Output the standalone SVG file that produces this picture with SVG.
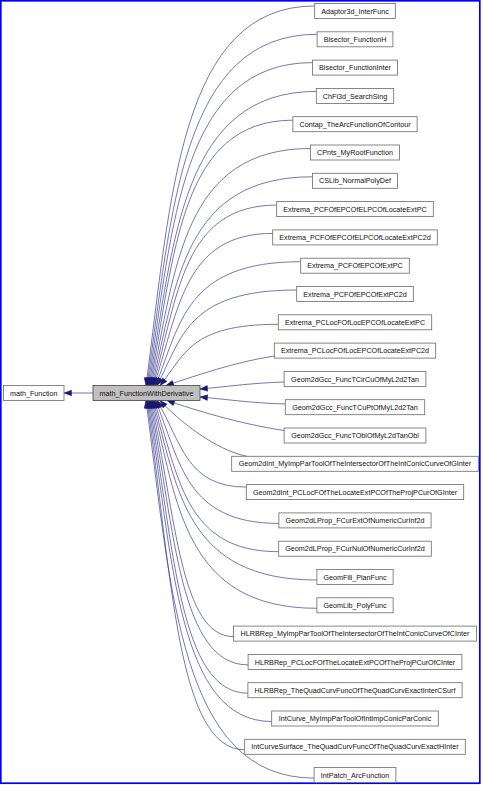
<svg xmlns="http://www.w3.org/2000/svg" width="483" height="785" viewBox="0 0 483 785">
<style>
.n rect{fill:#fff;stroke:#6a6a6a;stroke-width:0.8}
.c rect{fill:#bfbfbf;stroke:#444;stroke-width:0.8}
text{font-family:"Liberation Sans",Arial,Helvetica,sans-serif;font-size:7.2px;text-anchor:middle;fill:#111}
.e path{fill:none;stroke:#3c3c92;stroke-width:0.7;marker-end:url(#ah)}
</style>
<defs>
<marker id="ah" markerWidth="9" markerHeight="7" refX="7.5" refY="2.8" orient="auto" markerUnits="userSpaceOnUse" overflow="visible">
<path d="M0,0 L7.5,2.8 L0,5.6 Z" fill="#191970" stroke="#191970" stroke-width="0.5"/>
</marker>
</defs>
<rect x="0.8" y="0.8" width="479" height="782.4" fill="#fff" stroke="#0000ff" stroke-width="1.7"/>
<g id="edges" class="e">
<path d="M93,393 L64,393"/>
<path d="M314.7,6 C179.7,6 171,196.2 146,385.5"/>
<path d="M317.1,34.3 C181,34.3 172,210.4 147,385.5"/>
<path d="M312.5,62.6 C180.9,62.6 173,224.6 148,385.5"/>
<path d="M316.3,91.4 C182.5,91.4 174,238.7 149,385.5"/>
<path d="M292.9,120.2 C180,120.2 175,252.9 150,385.5"/>
<path d="M310.5,148.5 C182.9,148.5 176,267 151,385.5"/>
<path d="M312.5,176.8 C184.1,176.8 177,281.2 152,385.5"/>
<path d="M276.7,205.1 C183,205.1 178,295.3 153,385.5"/>
<path d="M272.7,233.4 C184,233.4 179,309.5 154,385.5"/>
<path d="M300.7,261.7 C185.5,261.7 180.5,323.6 155.5,385.5"/>
<path d="M296.7,290 C187,290 182,337.8 157,385.5"/>
<path d="M278.3,324.3 C190,324.3 185,354.9 160,385.5"/>
<path d="M274.3,356 C235,362 195,376 166,385.5"/>
<path d="M284.1,382 C250,383 225,387 200,389"/>
<path d="M285.3,404 C250,403 225,399 200,397"/>
<path d="M284.1,430.5 C240,424 195,410 167,400.5"/>
<path d="M247,456.3 C215,450 178,420 160,400.5"/>
<path d="M246.3,487.1 C187,487.1 182,443.8 157,400.5"/>
<path d="M278.9,523.4 C185.5,523.4 180.5,462 155.5,400.5"/>
<path d="M278.7,551.7 C184,551.7 179,476.1 154,400.5"/>
<path d="M316.9,580 C185.8,580 178,490.3 153,400.5"/>
<path d="M316.9,608.3 C185,608.3 177,504.4 152,400.5"/>
<path d="M233.5,636.6 C181,636.6 176,518.6 151,400.5"/>
<path d="M248.1,664.9 C180,664.9 175,532.7 150,400.5"/>
<path d="M247.9,693.2 C179,693.2 174,546.9 149,400.5"/>
<path d="M271.7,721.5 C178,721.5 173,561 148,400.5"/>
<path d="M244.7,749.8 C177,749.8 172,575.2 147,400.5"/>
<path d="M314.1,778.1 C179.6,778.1 171,589.3 146,400.5"/>
</g>
<g id="node-math_Function" class="n"><rect x="3.4" y="385.5" width="60.6" height="15"/><text x="33.7" y="395.6">math_Function</text></g>
<g id="node-math_FunctionWithDerivative" class="c"><rect x="93" y="385.5" width="107" height="15"/><text x="146.5" y="395.6">math_FunctionWithDerivative</text></g>
<g id="node-Adaptor3d_InterFunc" class="n"><rect x="314.7" y="3.5" width="80.6" height="15"/><text x="355" y="13.6">Adaptor3d_InterFunc</text></g>
<g id="node-Bisector_FunctionH" class="n"><rect x="317.1" y="31.8" width="75.8" height="15"/><text x="355" y="41.9">Bisector_FunctionH</text></g>
<g id="node-Bisector_FunctionInter" class="n"><rect x="312.5" y="60.1" width="85" height="15"/><text x="355" y="70.2">Bisector_FunctionInter</text></g>
<g id="node-ChFi3d_SearchSing" class="n"><rect x="316.3" y="88.4" width="77.4" height="15"/><text x="355" y="98.5">ChFi3d_SearchSing</text></g>
<g id="node-Contap_TheArcFunctionOfContour" class="n"><rect x="292.9" y="116.7" width="124.2" height="15"/><text x="355" y="126.8">Contap_TheArcFunctionOfContour</text></g>
<g id="node-CPnts_MyRootFunction" class="n"><rect x="310.5" y="145" width="89" height="15"/><text x="355" y="155.1">CPnts_MyRootFunction</text></g>
<g id="node-CSLib_NormalPolyDef" class="n"><rect x="312.5" y="173.3" width="85" height="15"/><text x="355" y="183.4">CSLib_NormalPolyDef</text></g>
<g id="node-Extrema_PCFOfEPCOfELPCOfLocateExtPC" class="n"><rect x="276.7" y="201.6" width="156.6" height="15"/><text x="355" y="211.7">Extrema_PCFOfEPCOfELPCOfLocateExtPC</text></g>
<g id="node-Extrema_PCFOfEPCOfELPCOfLocateExtPC2d" class="n"><rect x="272.7" y="229.9" width="164.6" height="15"/><text x="355" y="240">Extrema_PCFOfEPCOfELPCOfLocateExtPC2d</text></g>
<g id="node-Extrema_PCFOfEPCOfExtPC" class="n"><rect x="300.7" y="258.2" width="108.6" height="15"/><text x="355" y="268.3">Extrema_PCFOfEPCOfExtPC</text></g>
<g id="node-Extrema_PCFOfEPCOfExtPC2d" class="n"><rect x="296.7" y="286.5" width="116.6" height="15"/><text x="355" y="296.6">Extrema_PCFOfEPCOfExtPC2d</text></g>
<g id="node-Extrema_PCLocFOfLocEPCOfLocateExtPC" class="n"><rect x="278.3" y="314.8" width="153.4" height="15"/><text x="355" y="324.9">Extrema_PCLocFOfLocEPCOfLocateExtPC</text></g>
<g id="node-Extrema_PCLocFOfLocEPCOfLocateExtPC2d" class="n"><rect x="274.3" y="343.1" width="161.4" height="15"/><text x="355" y="353.2">Extrema_PCLocFOfLocEPCOfLocateExtPC2d</text></g>
<g id="node-Geom2dGcc_FuncTCirCuOfMyL2d2Tan" class="n"><rect x="284.1" y="371.4" width="141.8" height="15"/><text x="355" y="381.5">Geom2dGcc_FuncTCirCuOfMyL2d2Tan</text></g>
<g id="node-Geom2dGcc_FuncTCuPtOfMyL2d2Tan" class="n"><rect x="285.3" y="399.7" width="139.4" height="15"/><text x="355" y="409.8">Geom2dGcc_FuncTCuPtOfMyL2d2Tan</text></g>
<g id="node-Geom2dGcc_FuncTOblOfMyL2dTanObl" class="n"><rect x="284.1" y="428" width="141.8" height="15"/><text x="355" y="438.1">Geom2dGcc_FuncTOblOfMyL2dTanObl</text></g>
<g id="node-Geom2dInt_MyImpParToolOfTheIntersectorOfTheIntConicCurveOfGInter" class="n"><rect x="231.7" y="456.3" width="246.6" height="15"/><text x="355" y="466.4">Geom2dInt_MyImpParToolOfTheIntersectorOfTheIntConicCurveOfGInter</text></g>
<g id="node-Geom2dInt_PCLocFOfTheLocateExtPCOfTheProjPCurOfGInter" class="n"><rect x="246.3" y="484.6" width="217.4" height="15"/><text x="355" y="494.7">Geom2dInt_PCLocFOfTheLocateExtPCOfTheProjPCurOfGInter</text></g>
<g id="node-Geom2dLProp_FCurExtOfNumericCurInf2d" class="n"><rect x="278.9" y="512.9" width="152.2" height="15"/><text x="355" y="523">Geom2dLProp_FCurExtOfNumericCurInf2d</text></g>
<g id="node-Geom2dLProp_FCurNulOfNumericCurInf2d" class="n"><rect x="278.7" y="541.2" width="152.6" height="15"/><text x="355" y="551.3">Geom2dLProp_FCurNulOfNumericCurInf2d</text></g>
<g id="node-GeomFill_PlanFunc" class="n"><rect x="316.9" y="569.5" width="76.2" height="15"/><text x="355" y="579.6">GeomFill_PlanFunc</text></g>
<g id="node-GeomLib_PolyFunc" class="n"><rect x="316.9" y="597.8" width="76.2" height="15"/><text x="355" y="607.9">GeomLib_PolyFunc</text></g>
<g id="node-HLRBRep_MyImpParToolOfTheIntersectorOfTheIntConicCurveOfCInter" class="n"><rect x="233.5" y="626.1" width="243" height="15"/><text x="355" y="636.2">HLRBRep_MyImpParToolOfTheIntersectorOfTheIntConicCurveOfCInter</text></g>
<g id="node-HLRBRep_PCLocFOfTheLocateExtPCOfTheProjPCurOfCInter" class="n"><rect x="248.1" y="654.4" width="213.8" height="15"/><text x="355" y="664.5">HLRBRep_PCLocFOfTheLocateExtPCOfTheProjPCurOfCInter</text></g>
<g id="node-HLRBRep_TheQuadCurvFuncOfTheQuadCurvExactInterCSurf" class="n"><rect x="247.9" y="682.7" width="214.2" height="15"/><text x="355" y="692.8">HLRBRep_TheQuadCurvFuncOfTheQuadCurvExactInterCSurf</text></g>
<g id="node-IntCurve_MyImpParToolOfIntImpConicParConic" class="n"><rect x="271.7" y="711" width="166.6" height="15"/><text x="355" y="721.1">IntCurve_MyImpParToolOfIntImpConicParConic</text></g>
<g id="node-IntCurveSurface_TheQuadCurvFuncOfTheQuadCurvExactHInter" class="n"><rect x="244.7" y="739.3" width="220.6" height="15"/><text x="355" y="749.4">IntCurveSurface_TheQuadCurvFuncOfTheQuadCurvExactHInter</text></g>
<g id="node-IntPatch_ArcFunction" class="n"><rect x="314.1" y="767.6" width="81.8" height="15"/><text x="355" y="777.7">IntPatch_ArcFunction</text></g>
</svg>
